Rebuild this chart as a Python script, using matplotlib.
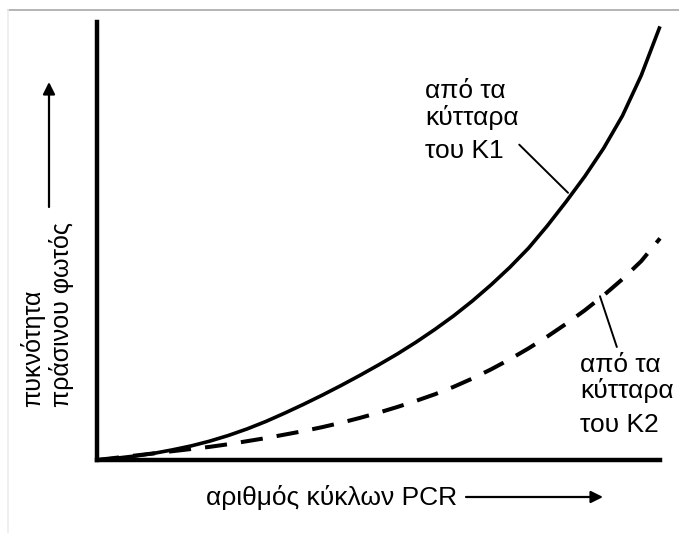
import matplotlib
matplotlib.use('Agg')
import matplotlib.pyplot as plt
from matplotlib.lines import Line2D

plt.rcParams['font.family'] = ['Liberation Sans', 'DejaVu Sans']

# κύκλοι PCR και πυκνότητα φθορισμού (διαβασμένα από το σχήμα)
cycles = list(range(0, 31))
k1_signal = [0, 0.4, 0.9, 1.5, 2.3, 3.2, 4.3, 5.6, 7.1, 8.8,
             10.7, 12.7, 14.8, 17.0, 19.3, 21.7, 24.2, 26.9, 29.8, 32.9,
             36.3, 40.0, 44.0, 48.4, 53.5, 59.0, 64.8, 71.2, 78.6, 87.8,
             99.0]
k2_signal = [0, 0.5, 1.0, 1.5, 2.0, 2.5, 3.0, 3.6, 4.3, 5.0,
             5.8, 6.6, 7.5, 8.5, 9.6, 10.8, 12.1, 13.5, 15.0, 16.7,
             18.6, 20.7, 23.0, 25.5, 28.2, 31.1, 34.2, 37.6, 41.3, 45.4,
             50.6]

k1_lines = ['από τα', 'κύτταρα', 'του K1']
k2_lines = ['από τα', 'κύτταρα', 'του K2']
x_label = 'αριθμός κύκλων PCR'
y_label = 'πυκνότητα\nπράσινου φωτός'

W, H = 679, 533
fig = plt.figure(figsize=(W / 100, H / 100), dpi=100)
ax = fig.add_axes([97 / W, 73 / H, 563 / W, 438 / H])
ax.set_xlim(0, 30)
ax.set_ylim(0, 100)

for side in ['top', 'right']:
    ax.spines[side].set_visible(False)
for side in ['left', 'bottom']:
    ax.spines[side].set_linewidth(3.2)
    ax.spines[side].set_capstyle('projecting')
ax.set_xticks([])
ax.set_yticks([])

ax.plot(cycles, k1_signal, color='black', lw=2.6, clip_on=False, solid_capstyle='butt')
ax.plot(cycles, k2_signal, color='black', lw=2.9, clip_on=False,
        dashes=(5.5, 3.5), dash_capstyle='butt')

fs = 19
# ετικέτες καμπυλών
k1_base = [82.6, 76.5, 68.9]
for txt, yb in zip(k1_lines, k1_base):
    ax.text(17.5, yb, txt, fontsize=fs, ha='left', va='baseline')
k2_base = [20.1, 14.2, 6.4]
for txt, yb in zip(k2_lines, k2_base):
    ax.text(25.75, yb, txt, fontsize=fs, ha='left', va='baseline')

ax.annotate('', xy=(25.1, 61.0), xytext=(22.5, 72.0),
            arrowprops=dict(arrowstyle='-', lw=1.4, color='black', shrinkA=0, shrinkB=0))
ax.annotate('', xy=(26.8, 37.4), xytext=(27.7, 25.8),
            arrowprops=dict(arrowstyle='-', lw=1.4, color='black', shrinkA=0, shrinkB=0))

# τίτλοι αξόνων με βέλη
fig.text(206 / W, 1 - 497 / H, x_label, fontsize=fs, ha='left', va='center')
ax.annotate('', xy=(603 / W, 1 - 497 / H), xytext=(466 / W, 1 - 497 / H),
            xycoords='figure fraction', textcoords='figure fraction',
            arrowprops=dict(arrowstyle='-|>', lw=1.6, color='black',
                            mutation_scale=18, shrinkA=0, shrinkB=0))

fig.text(47 / W, 1 - 407 / H, y_label, fontsize=18, rotation=90,
         ha='center', va='bottom', multialignment='left', linespacing=1.15)
ax.annotate('', xy=(49 / W, 1 - 82 / H), xytext=(49 / W, 1 - 207 / H),
            xycoords='figure fraction', textcoords='figure fraction',
            arrowprops=dict(arrowstyle='-|>', lw=1.6, color='black',
                            mutation_scale=18, shrinkA=0, shrinkB=0))

# λεπτό γκρι πλαίσιο της εικόνας
fig.add_artist(Line2D([8 / W, 1], [1 - 10 / H, 1 - 10 / H], color='#a8a8a8', lw=1.2))
fig.add_artist(Line2D([8 / W, 8 / W], [0, 1 - 10 / H], color='#ececec', lw=1.2))

fig.savefig('out.png', dpi=100, facecolor='white')
